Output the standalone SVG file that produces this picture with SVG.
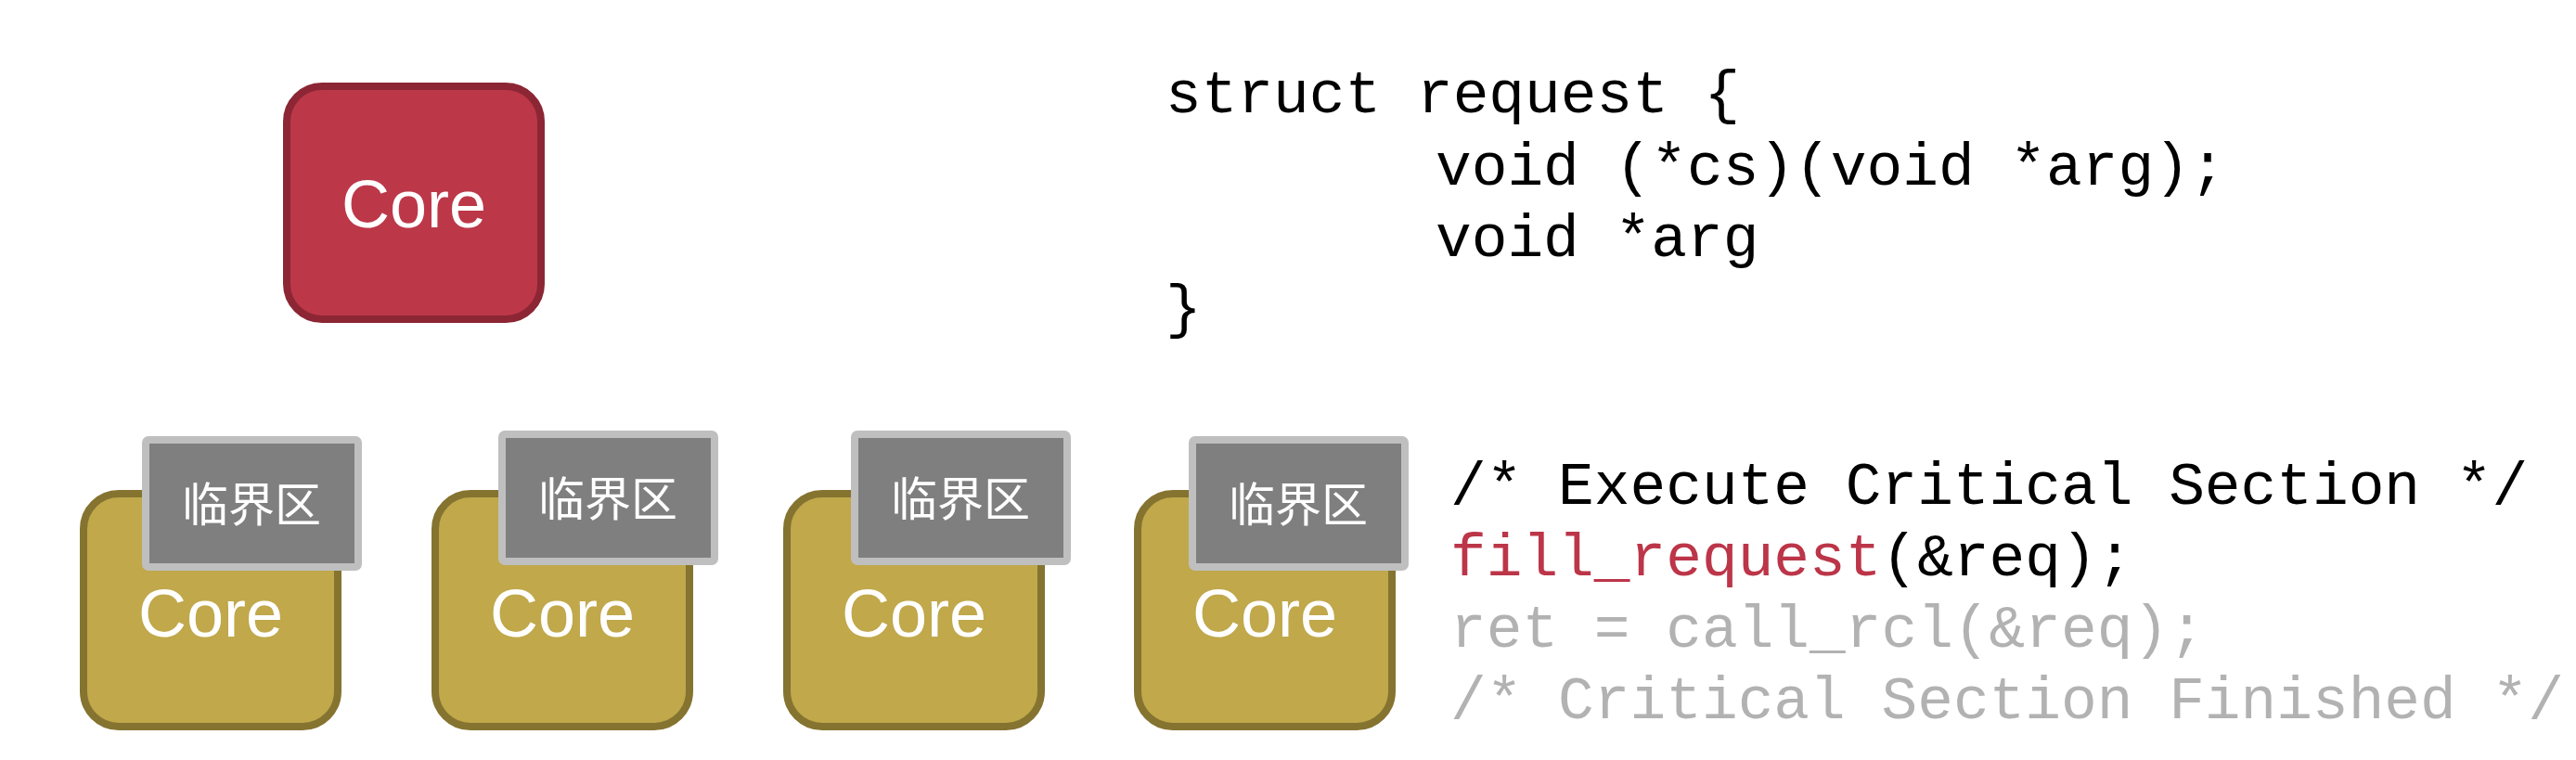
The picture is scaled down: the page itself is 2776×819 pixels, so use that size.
<svg xmlns="http://www.w3.org/2000/svg" width="2776" height="819" viewBox="0 0 2776 819">
<style>
.bg{fill:#FFFFFF}
.core-red{fill:#BC3849;stroke:#8C2634;stroke-width:8}
.core-y{fill:#C0A84B;stroke:#857330;stroke-width:8}
.cs{fill:#7F7F7F;stroke:#BFBFBF;stroke-width:8}
.core-t{font-family:"Liberation Sans",Arial,sans-serif;font-size:72px;fill:#FFFFFF;text-anchor:middle}
.cs-t{font-family:"Noto Sans CJK SC","Liberation Sans",sans-serif;font-size:50px;fill:#FFFFFF;text-anchor:middle}
.code{font-family:"Liberation Mono","Courier New",monospace;font-size:64.5px;fill:#000000;white-space:pre}
.red{fill:#BC3548}
.gray{fill:#B2B2B2}
</style>
<rect class="bg" x="0" y="0" width="2776" height="819"/>
<g id="core-main">
<rect class="core-red" x="309" y="93" width="274" height="251" rx="38" ry="38"/>
<text class="core-t" x="446" y="245">Core</text>
</g>
<g id="core-1">
<rect class="core-y" x="90" y="532" width="274" height="251" rx="38" ry="38"/>
<text class="core-t" x="227" y="686">Core</text>
<rect class="cs" x="157" y="474" width="229" height="137" rx="3" ry="3"/>
<text class="cs-t" x="271" y="562">临界区</text>
</g>
<g id="core-2">
<rect class="core-y" x="469" y="532" width="274" height="251" rx="38" ry="38"/>
<text class="core-t" x="606" y="686">Core</text>
<rect class="cs" x="541" y="468" width="229" height="137" rx="3" ry="3"/>
<text class="cs-t" x="655" y="556">临界区</text>
</g>
<g id="core-3">
<rect class="core-y" x="848" y="532" width="274" height="251" rx="38" ry="38"/>
<text class="core-t" x="985" y="686">Core</text>
<rect class="cs" x="921" y="468" width="229" height="137" rx="3" ry="3"/>
<text class="cs-t" x="1035" y="556">临界区</text>
</g>
<g id="core-4">
<rect class="core-y" x="1226" y="532" width="274" height="251" rx="38" ry="38"/>
<text class="core-t" x="1363" y="686">Core</text>
<rect class="cs" x="1285" y="474" width="229" height="137" rx="3" ry="3"/>
<text class="cs-t" x="1399" y="562">临界区</text>
</g>
<g id="struct-code">
<text class="code" x="1256" y="121">struct request {</text>
<text class="code" x="1547" y="199">void (*cs)(void *arg);</text>
<text class="code" x="1547" y="276">void *arg</text>
<text class="code" x="1256" y="352">}</text>
</g>
<g id="cs-code">
<text class="code" x="1563" y="543">/* Execute Critical Section */</text>
<text class="code" x="1563" y="620"><tspan class="red">fill_request</tspan>(&amp;req);</text>
<text class="code gray" x="1563" y="697">ret = call_rcl(&amp;req);</text>
<text class="code gray" x="1563" y="774">/* Critical Section Finished */</text>
</g>
<g id="connectors"></g>
</svg>
